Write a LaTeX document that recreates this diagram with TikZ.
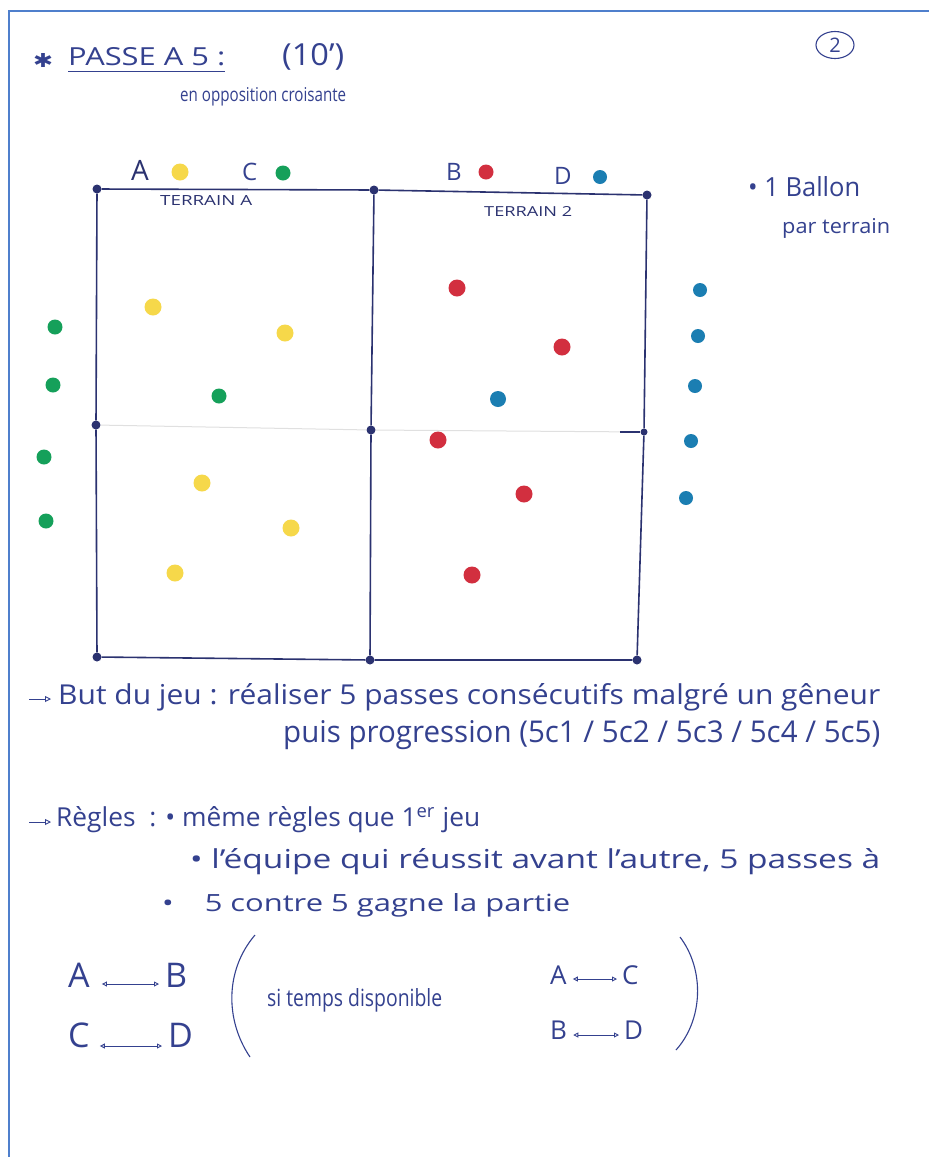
\documentclass[tikz,border=0pt]{standalone}
\usepackage{fontspec}
\setmainfont{Open Sans}
\newfontfamily\symfont{DejaVu Sans}
\usetikzlibrary{arrows.meta,shapes.geometric}
\definecolor{ink}{HTML}{34418F}
\definecolor{lineink}{HTML}{2B3270}
\definecolor{frameblue}{HTML}{4F7FCC}
\definecolor{dyellow}{HTML}{F6D84A}
\definecolor{dgreen}{HTML}{15A05A}
\definecolor{dred}{HTML}{D22F3F}
\definecolor{dblue}{HTML}{1B7EB2}
\newcommand{\fitw}[3]{\resizebox{#1pt}{#2pt}{#3}}
\newcommand{\fs}[1]{\fontsize{#1}{#1}\selectfont}
\begin{document}
\begin{tikzpicture}[x=1pt,y=-1pt,
  txt/.style={inner sep=0pt, anchor=west, text=ink},
  corner/.style={circle, fill=lineink, inner sep=0pt, minimum size=9pt},
  player/.style={circle, inner sep=0pt, minimum size=17pt},
  ydot/.style={player, fill=dyellow},
  gdot/.style={player, fill=dgreen, minimum size=15pt},
  rdot/.style={player, fill=dred},
  bdot/.style={player, fill=dblue, minimum size=14pt},
  fieldline/.style={draw=lineink, line width=1.6pt},
  midline/.style={draw=black!12, line width=1pt},
  inkarrow/.style={draw=ink, line width=0.9pt, -{Triangle[open,length=6pt,width=6pt]}},
  duo/.style={draw=ink, line width=0.9pt, {Triangle[open,length=5pt,width=5pt]}-{Triangle[open,length=5pt,width=5pt]}},
  paren/.style={draw=ink, line width=1.1pt}]
\useasboundingbox[fill=white] (0,0) rectangle (929,1157);
% page frame
\draw[frameblue, line width=1.5pt] (9,1157) -- (9,11) -- (929,11);

% title
\node[txt] (star) at (33,60) {\fitw{20}{14}{\symfont ✱}};
\node[txt] (title) at (68,57) {\fitw{157}{18}{PASSE A 5 :}};
\draw[ink, line width=1.3pt] ([yshift=-5pt]title.south west) -- ([yshift=-5pt]title.south east);
\node[txt] (time) at (282,57) {\fitw{62}{22}{(10')}};
\node[txt] (sub) at (180,97) {\fitw{166}{14}{en opposition croisante}};
\node[draw=ink, line width=1.1pt, ellipse, minimum width=38pt, minimum height=27pt, inner sep=0pt, text=ink, font=\fs{20}] (page) at (835,45) {2};

% ball note
\node[txt] (ball) at (748,187) {\fitw{112}{20}{\textbullet\ 1 Ballon}};
\node[txt] (parter) at (782,228) {\fitw{108}{15}{par terrain}};

% legend
\node[txt, font=\fs{28}, text=lineink] (lA) at (131,170) {A};
\node[ydot] (kA) at (180,172) {};
\node[txt, font=\fs{24}] (lC) at (242,172) {C};
\node[gdot] (kC) at (283,173) {};
\node[txt, font=\fs{24}] (lB) at (446,172) {B};
\node[rdot, minimum size=15pt] (kB) at (486,172) {};
\node[txt, font=\fs{24}] (lD) at (554,176) {D};
\node[bdot] (kD) at (600,177) {};

% field
\node[corner] (tl) at (97,189) {};
\node[corner] (tm) at (374,190) {};
\node[corner] (tr) at (647,195) {};
\node[corner] (ml) at (96,425) {};
\node[corner] (mm) at (371,430) {};
\node[corner, minimum size=7pt] (mr) at (644,432) {};
\node[corner] (bl) at (97,657) {};
\node[corner] (bm) at (370,660) {};
\node[corner] (br) at (637,660) {};
\coordinate (tick) at (620,432);
\draw[midline] (ml) -- (mm) -- (mr);
\draw[fieldline] (tl) -- (tm) -- (tr) -- (mr) -- (br) -- (bm) -- (bl) -- (ml) -- (tl);
\draw[fieldline] (tm) -- (mm) -- (bm);
\draw[fieldline, line width=1.3pt] (tick) -- (mr);
\node[txt, text=lineink] (tA) at (160,200) {\fitw{92}{10}{TERRAIN A}};
\node[txt, text=lineink] (tZ) at (484,211) {\fitw{88}{10}{TERRAIN 2}};

% players terrain A
\node[ydot] (y1) at (153,307) {};
\node[ydot] (y2) at (285,333) {};
\node[ydot] (y3) at (202,483) {};
\node[ydot] (y4) at (291,528) {};
\node[ydot] (y5) at (175,573) {};
\node[gdot] (g0) at (219,396) {};
\node[gdot] (g1) at (55,327) {};
\node[gdot] (g2) at (53,385) {};
\node[gdot] (g3) at (44,457) {};
\node[gdot] (g4) at (46,521) {};
% players terrain 2
\node[rdot] (r1) at (457,288) {};
\node[rdot] (r2) at (562,347) {};
\node[rdot] (r3) at (438,440) {};
\node[rdot] (r4) at (524,494) {};
\node[rdot] (r5) at (472,575) {};
\node[bdot, minimum size=16pt] (b0) at (498,399) {};
\node[bdot] (b1) at (700,290) {};
\node[bdot] (b2) at (698,336) {};
\node[bdot] (b3) at (695,386) {};
\node[bdot] (b4) at (691,441) {};
\node[bdot] (b5) at (686,498) {};

% goal
\coordinate (a1s) at (29,699);
\coordinate (a1e) at (51,699);
\draw[inkarrow] (a1s) -- (a1e);
\node[txt] (but) at (58,697) {\fitw{822}{21}{But du jeu : réaliser 5 passes consécutifs malgré un gêneur}};
\node[txt] (prog) at (283,735) {\fitw{597}{22}{puis progression (5c1 / 5c2 / 5c3 / 5c4 / 5c5)}};

% rules
\coordinate (a2s) at (29,822);
\coordinate (a2e) at (51,822);
\draw[inkarrow] (a2s) -- (a2e);
\node[txt] (regles) at (56,820) {\fitw{424}{20}{Règles \ : \textbullet\ même règles que 1\textsuperscript{er} jeu}};
\node[txt] (r2t) at (190,862) {\fitw{690}{20}{\textbullet\ l'équipe qui réussit avant l'autre, 5 passes à}};
\node[txt] (r3t) at (162,905) {\fitw{408}{18}{\textbullet\quad 5 contre 5 gagne la partie}};

% pairings
\node[txt, font=\fs{34}] (pA) at (68,975) {A};
\node[txt, font=\fs{34}] (pB) at (165,975) {B};
\node[txt, font=\fs{34}] (pC) at (68,1035) {C};
\node[txt, font=\fs{34}] (pD) at (168,1035) {D};
\draw[duo] ([xshift=12pt,yshift=-9pt]pA.east) -- ([xshift=-6pt,yshift=-9pt]pB.west);
\draw[duo] ([xshift=10pt,yshift=-11pt]pC.east) -- ([xshift=-6pt,yshift=-11pt]pD.west);

\coordinate (lp1) at (255,935);
\coordinate (lp2) at (250,1057);
\draw[paren] (lp1) .. controls (225,970) and (225,1020) .. (lp2);
\node[txt] (si) at (267,1000) {\fitw{175}{18}{si temps disponible}};
\node[txt, font=\fs{26}] (qA) at (550,975) {A};
\node[txt, font=\fs{26}] (qC) at (622,975) {C};
\node[txt, font=\fs{26}] (qB) at (550,1030) {B};
\node[txt, font=\fs{26}] (qD) at (624,1030) {D};
\draw[duo] ([xshift=6pt,yshift=-4pt]qA.east) -- ([xshift=-5pt,yshift=-4pt]qC.west);
\draw[duo] ([xshift=6pt,yshift=-5pt]qB.east) -- ([xshift=-5pt,yshift=-5pt]qD.west);
\coordinate (rp1) at (680,937);
\coordinate (rp2) at (676,1050);
\draw[paren] (rp1) .. controls (705,970) and (703,1020) .. (rp2);
\end{tikzpicture}
\end{document}
